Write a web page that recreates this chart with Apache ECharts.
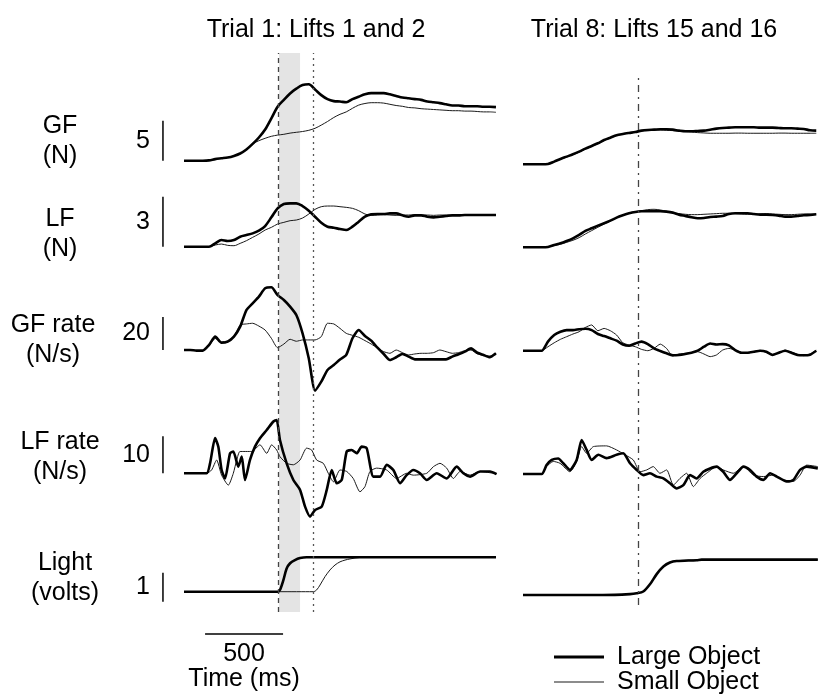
<!DOCTYPE html>
<html><head><meta charset="utf-8">
<script src="https://cdn.jsdelivr.net/npm/echarts@6/dist/echarts.min.js"></script>
<style>html,body{margin:0;padding:0;background:#fff}#c{width:820px;height:694px}</style>
</head><body><div id="c"></div><script>
// ---------------- DATA ----------------
const columnTitles = ['Trial 1: Lifts 1 and 2', 'Trial 8: Lifts 15 and 16'];
const seriesNames = ['Large Object', 'Small Object'];
const rowLabels = ['GF\n(N)', 'LF\n(N)', 'GF rate\n(N/s)', 'LF rate\n(N/s)', 'Light\n(volts)'];
const scaleBarValues = [5, 3, 20, 10, 1];
const scaleBarBase = [0, 0, 0, 0, -0.35];
const timeBarMs = 500;
const timeBarStart = 135;
const timeBarLabel = 'Time (ms)';
const eventsLeft = { onsetLarge: 604, onsetSmall: 829, band: [609, 744] };
const eventsRight = { onset: 737 };

// time samples (ms)
const tL = [0,40,80,120,160,200,240,280,320,360,400,440,480,520,560,600,640,680,720,760,800,840,880,920,960,1000,1040,1080,1120,1160,1200,1240,1280,1320,1360,1400,1440,1480,1520,1560,1600,1640,1680,1720,1760,1800,1840,1880,1920,1960,2000];
const tR = [0,40,80,120,160,200,240,280,320,360,400,440,480,520,560,600,640,680,720,760,800,840,880,920,960,1000,1040,1080,1120,1160,1200,1240,1280,1320,1360,1400,1440,1480,1520,1560,1600,1640,1680,1720,1760,1800,1840,1880];

// GF (N)
const gfLargeL = [0,0,0,0,0.04,0.2,0.3,0.4,0.6,0.9,1.4,2.1,2.9,3.9,5.3,6.75,7.6,8.4,9.0,9.45,9.55,8.9,8.2,7.7,7.45,7.4,7.3,7.7,8.0,8.3,8.45,8.45,8.45,8.3,8.1,7.9,7.8,7.7,7.6,7.4,7.3,7.2,7.05,6.9,6.9,6.8,6.8,6.8,6.75,6.75,6.7];
const gfSmallL = [0,0,0,0,0.04,0.2,0.3,0.4,0.6,0.9,1.4,2.1,2.5,2.8,3.05,3.2,3.3,3.45,3.55,3.65,3.8,4.05,4.45,4.9,5.4,5.8,6.1,6.55,6.95,7.15,7.25,7.25,7.2,7.05,6.9,6.8,6.65,6.6,6.5,6.45,6.4,6.35,6.3,6.25,6.25,6.2,6.2,6.15,6.1,6.1,6.05];
const gfLargeR = [0,0,0,0,0.04,0.33,0.67,0.96,1.25,1.58,1.96,2.29,2.63,3.04,3.33,3.63,3.79,3.92,4.04,4.21,4.29,4.33,4.38,4.38,4.33,4.21,4.13,4.13,4.17,4.21,4.33,4.46,4.54,4.58,4.63,4.63,4.63,4.63,4.58,4.58,4.58,4.54,4.5,4.5,4.46,4.42,4.25,4.21];
const gfSmallR = [0,0,0,0,0.04,0.3,0.62,0.92,1.2,1.52,1.9,2.24,2.58,2.98,3.3,3.6,3.77,3.9,4.02,4.17,4.21,4.25,4.29,4.25,4.21,4.13,4.08,4.04,3.96,3.92,3.88,3.88,3.88,3.88,3.9,3.9,3.88,3.88,3.88,3.88,3.88,3.9,3.9,3.88,3.88,3.88,3.88,3.88];

// LF (N)
const lfLargeL = [0,0,0,0,0,0.2,0.4,0.34,0.4,0.6,0.7,0.8,0.96,1.24,1.76,2.3,2.56,2.6,2.6,2.44,2.16,1.8,1.44,1.2,1.14,1.06,1.0,1.2,1.5,1.8,1.94,1.96,1.96,2.0,2.0,1.88,1.8,1.88,1.88,1.8,1.76,1.8,1.84,1.88,1.88,1.9,1.9,1.9,1.9,1.9,1.9];
const lfSmallL = [0,0,0,0,0,0.1,0.16,0.08,0.06,0.2,0.36,0.56,0.76,1.0,1.16,1.36,1.46,1.56,1.6,1.72,1.96,2.24,2.4,2.44,2.44,2.4,2.36,2.3,2.16,1.96,1.88,1.9,1.92,1.9,1.88,1.9,1.9,1.92,1.9,1.9,1.88,1.9,1.9,1.9,1.9,1.9,1.9,1.9,1.9,1.9,1.9];
const lfLargeR = [0,0,0,0,0.02,0.14,0.24,0.38,0.54,0.74,0.98,1.14,1.3,1.44,1.6,1.78,1.92,2.04,2.12,2.16,2.16,2.16,2.16,2.14,2.08,1.96,1.88,1.8,1.74,1.76,1.82,1.84,1.88,2.0,2.04,2.04,2.04,2.0,1.96,1.96,1.94,1.9,1.84,1.84,1.88,1.92,1.94,1.98];
const lfSmallR = [0,0,0,0,0.02,0.1,0.18,0.3,0.42,0.58,0.8,1.0,1.2,1.4,1.58,1.76,1.92,2.06,2.14,2.2,2.26,2.28,2.24,2.16,2.08,2.02,1.98,1.96,1.96,1.98,2.0,2.02,2.04,2.04,2.02,2.0,1.98,1.98,2.0,2.02,2.0,1.98,1.96,1.96,1.98,2.0,2.0,2.0];

// GF rate (N/s)
const gfrLargeL = [0,0,-0.4,-0.4,3.0,8.1,4.4,5.1,8.1,14.1,24.2,28.3,32.3,37.4,38.0,33.3,30.3,26.3,21.2,10.1,-5.1,-24.6,-19.2,-12.1,-9.1,-5.7,-3.0,7.1,12.1,8.5,5.7,1.4,-2.4,-6.1,-4.4,-2.4,-4.0,-5.7,-5.7,-5.7,-5.7,-5.7,-5.7,-4.0,-2.6,-1.0,1.0,-1.6,-3.0,-4.4,-2.0];
const gfrSmallL = [0,0,-0.4,-0.4,2.5,7.0,5.0,5.5,8.5,15.2,15.8,16.2,14.5,12.1,7.1,1.4,3.6,6.5,5.3,6.1,6.1,6.1,8.1,16.2,15.8,13.1,10.1,8.9,7.7,5.7,3.6,1.2,-1.0,-2.0,0,-1.6,-3.0,-2.4,-2.0,-2.0,-1.6,0,-1.0,-2.0,-1.6,-0.4,0,-2.4,-3.2,-3.6,-2.8];
const gfrLargeR = [0,0,0,0,5.5,9.5,11.5,12.5,12.5,13.0,13.3,12.5,10.1,8.9,7.5,6.1,3.8,3.0,4.4,5.5,4.0,1.4,-0.2,-1.6,-2.8,-2.6,-2.0,-1.2,0,2.4,4.4,3.8,4.0,3.2,0.4,-1.2,-1.2,-0.6,0,-0.6,-2.6,-1.2,0,-1.2,-2.6,-2.8,-2.4,0];
const gfrSmallR = [0,0,0,0,2.4,4.8,6.9,8.5,10.1,11.5,14.1,15.6,12.1,13.5,12.1,9.5,4.8,3.4,2.4,0.8,0,1.4,4.0,1.4,-3.2,-2.0,-1.6,-1.2,-0.6,-2.0,-3.6,-2.6,0.4,1.4,0.4,-1.0,-1.6,-0.4,0.2,-1.0,-2.2,-1.6,0.4,-0.8,-2.2,-3.0,-2.0,0.2];

// LF rate (N/s), irregular samples
const lfrLargeL_t = [0,145,167,199,220,241,263,295,316,348,370,391,423,455,487,530,573,594,615,658,701,744,776,808,840,883,915,947,979,1011,1043,1075,1107,1139,1171,1214,1257,1299,1342,1385,1427,1470,1513,1556,1620,1684,1748,1791,1834,1898,1962,2004];
const lfrLargeL = [0,0,2.7,9.5,7.2,0.9,-1.4,5.4,5.9,1.8,4.5,-1.8,3.6,7.2,9.5,11.7,14.0,14.4,9.0,2.7,-1.8,-4.5,-9.0,-11.7,-9.9,-9.0,-4.5,0.9,-2.7,-1.8,5.9,6.3,5.4,7.2,6.8,-0.9,-0.9,2.3,0.9,-2.7,-0.5,0.9,0,-1.8,0,-1.4,1.8,0,-0.9,0.5,0.5,-0.2];
const lfrSmallL_t = [0,145,177,209,241,284,316,338,359,434,487,530,562,594,615,658,701,744,786,818,850,893,925,958,1000,1043,1085,1128,1160,1192,1235,1299,1363,1427,1470,1556,1599,1641,1684,1727,1770,1834,1898,1983];
const lfrSmallL = [0,0,0.9,3.6,-0.5,-3.2,0,3.6,5.9,5.9,7.7,5.4,7.7,6.3,4.5,2.7,2.3,3.6,6.8,6.3,3.6,2.7,0,-2.3,0.9,0.5,-1.4,-5.0,-3.6,0.5,1.4,0.9,-1.4,0,-0.5,0,1.8,2.7,1.4,-1.4,0.5,-0.5,0.5,0];
const lfrLargeR_t = [0,120,151,184,226,258,301,344,376,408,440,483,536,600,643,686,729,771,814,857,900,942,985,1028,1071,1113,1156,1199,1241,1284,1327,1370,1413,1456,1498,1541,1584,1627,1690,1733,1776,1819,1890];
const lfrLargeR = [0,0,2.4,3.8,4.2,2.9,1.1,3.8,9.2,6.5,3.8,5.2,4.3,5.2,5.6,2.9,1.1,-0.3,0.2,-0.7,-1.2,-2.5,-3.9,-3.0,-0.3,-1.2,0.6,1.5,2.0,0.6,-1.6,0.2,2.0,1.1,-0.7,-1.6,0.2,-0.7,-2.0,-1.6,1.1,2.0,1.5];
const lfrSmallR_t = [0,120,151,194,237,301,344,376,408,451,536,600,654,707,750,793,835,878,921,964,1006,1049,1092,1135,1177,1241,1284,1348,1413,1477,1541,1605,1669,1733,1776,1819,1890];
const lfrSmallR = [0,0,2.0,3.4,2.9,0.6,3.4,7.4,5.6,7.4,7.6,6.5,5.2,3.8,0.6,1.1,2.0,0.2,1.1,-3.0,-1.2,0.2,-3.4,-1.2,0.2,2.0,1.1,0.2,2.0,-0.3,-0.7,-0.3,-1.6,-2.0,-0.3,2.4,2.0];

// Light (volts)
const lightLargeL_t = [0,600,615,637,658,680,711,744,786,2000];
const lightLargeL = [0,0,0.06,0.4,0.8,0.98,1.09,1.16,1.19,1.19];
const lightSmallL_t = [0,829,850,872,904,936,968,1000,1032,1064,1128,2000];
const lightSmallL = [0,0,0.06,0.23,0.52,0.75,0.92,1.03,1.09,1.13,1.18,1.19];
const lightLargeR_t = [0,512,686,729,771,814,857,900,942,985,1113,1145,1890];
const lightLargeR = [0,0,0.03,0.06,0.12,0.37,0.72,0.98,1.12,1.17,1.2,1.22,1.22];
const lightSmallR_t = [0,512,686,729,771,814,857,900,942,985,1113,1890];
const lightSmallR = [0,0,0.03,0.06,0.13,0.38,0.73,0.99,1.13,1.18,1.21,1.22];

// ---------------- LAYOUT ----------------
const FONT = '"Liberation Sans", Arial, Helvetica, sans-serif';
const FS = 25;
const zip = (t, v) => t.map((x, i) => [x, v[i]]);
const colL = { left: 149.7, width: 349.4, min: -220, max: 2020 };
const colR = { left: 523, width: 297, min: 0, max: 1904 };
const scaleBarT = -135;

const rows = [
  { k: 8,     min: -1,   max: 11,  bL: 160.7, bR: 164.3, smooth: 0.3,
    L: [zip(tL, gfLargeL), zip(tL, gfSmallL)], R: [zip(tR, gfLargeR), zip(tR, gfSmallR)] },
  { k: 16.67, min: -0.6, max: 3.0, bL: 246.7, bR: 247.3, smooth: 0.3,
    L: [zip(tL, lfLargeL), zip(tL, lfSmallL)], R: [zip(tR, lfLargeR), zip(tR, lfSmallR)] },
  { k: 1.65,  min: -30,  max: 45,  bL: 350,   bR: 350.7, smooth: 0.2,
    L: [zip(tL, gfrLargeL), zip(tL, gfrSmallL)], R: [zip(tR, gfrLargeR), zip(tR, gfrSmallR)] },
  { k: 3.7,   min: -14,  max: 16,  bL: 473.3, bR: 474,   smooth: 0.2,
    L: [zip(lfrLargeL_t, lfrLargeL), zip(lfrSmallL_t, lfrSmallL)], R: [zip(lfrLargeR_t, lfrLargeR), zip(lfrSmallR_t, lfrSmallR)] },
  { k: 29,    min: -0.4, max: 1.4, bL: 591.7, bR: 595,   smooth: 0.3,
    L: [zip(lightLargeL_t, lightLargeL), zip(lightSmallL_t, lightSmallL)], R: [zip(lightLargeR_t, lightLargeR), zip(lightSmallR_t, lightSmallR)] }
];
const rowLabelPos = [[60, 141.5], [60, 234], [53, 340], [60, 457.5], [65, 578]];

const grid = [], xAxis = [], yAxis = [], series = [];
function addGrid(col, top, height, ymin, ymax) {
  grid.push({ left: col.left, width: col.width, top: top, height: height, containLabel: false });
  const i = grid.length - 1;
  xAxis.push({ type: 'value', gridIndex: i, min: col.min, max: col.max, show: false });
  yAxis.push({ type: 'value', gridIndex: i, min: ymin, max: ymax, show: false });
  return i;
}
const lineW = [2.6, 1];
const lineC = ['#000', '#1a1a1a'];

// overlay grids (event lines and band)
const ovL = addGrid(colL, 53, 559, 0, 1);
series.push({ type: 'line', xAxisIndex: ovL, yAxisIndex: ovL, data: [], z: 1, silent: true,
  markArea: { silent: true, itemStyle: { color: '#e4e4e4' }, data: [[{ xAxis: eventsLeft.band[0] }, { xAxis: eventsLeft.band[1] }]] },
  markLine: { silent: true, symbol: 'none', label: { show: false }, animation: false,
    data: [
      { xAxis: eventsLeft.onsetLarge, lineStyle: { color: '#444', width: 1.3, type: [5, 4] } },
      { xAxis: eventsLeft.onsetSmall, lineStyle: { color: '#555', width: 1.3, type: [2, 4] } }
    ] } });
const ovR = addGrid(colR, 75, 530, 0, 1);
series.push({ type: 'line', xAxisIndex: ovR, yAxisIndex: ovR, data: [], z: 1, silent: true,
  markLine: { silent: true, symbol: 'none', label: { show: false }, animation: false,
    data: [{ xAxis: eventsRight.onset, lineStyle: { color: '#444', width: 1.3, type: [7, 5, 2, 5] } }] } });

rows.forEach((r, ri) => {
  const gl = addGrid(colL, r.bL - r.max * r.k, (r.max - r.min) * r.k, r.min, r.max);
  const gr = addGrid(colR, r.bR - r.max * r.k, (r.max - r.min) * r.k, r.min, r.max);
  [[gl, r.L], [gr, r.R]].forEach(([gi, sets]) => {
    sets.forEach((d, si) => {
      series.push({ type: 'line', name: seriesNames[si], xAxisIndex: gi, yAxisIndex: gi, data: d,
        symbol: 'none', showSymbol: false, smooth: r.smooth, z: 3 + (1 - si),
        lineStyle: { color: lineC[si], width: lineW[si] }, itemStyle: { color: lineC[si] }, silent: true });
    });
  });
  // scale bar
  const lo = scaleBarBase[ri], hi = lo + scaleBarValues[ri];
  series.push({ type: 'line', xAxisIndex: gl, yAxisIndex: gl, data: [[scaleBarT, lo], [scaleBarT, hi]],
    symbol: 'none', lineStyle: { color: '#000', width: 1.5 }, clip: false, silent: true });
  series.push({ type: 'scatter', xAxisIndex: gl, yAxisIndex: gl, data: [[scaleBarT, (lo + hi) / 2]],
    symbolSize: 0, itemStyle: { color: '#000', opacity: 1 }, clip: false, silent: true,
    label: { show: true, position: 'left', distance: 13, formatter: String(scaleBarValues[ri]),
      fontSize: FS, fontFamily: FONT, color: '#000', opacity: 1, textBorderWidth: 0 } });
});

// time scale bar
const gb = addGrid(colL, 624, 20, 0, 1);
series.push({ type: 'line', xAxisIndex: gb, yAxisIndex: gb, data: [[timeBarStart, 0.5], [timeBarStart + timeBarMs, 0.5]],
  symbol: 'none', lineStyle: { color: '#000', width: 1.5 }, silent: true });
series.push({ type: 'scatter', xAxisIndex: gb, yAxisIndex: gb, data: [[timeBarStart + timeBarMs / 2, 0.5]],
  symbolSize: 0, itemStyle: { color: '#000', opacity: 1 }, silent: true, clip: false,
  label: { show: true, position: 'bottom', distance: 8, formatter: timeBarMs + '\n' + timeBarLabel,
    fontSize: FS, lineHeight: 25, fontFamily: FONT, color: '#000', align: 'center', textBorderWidth: 0 } });

const graphic = [];
const titleX = [316, 654];
columnTitles.forEach((t, i) => graphic.push({ type: 'text', x: titleX[i], y: 30, silent: true,
  style: { text: t, font: FS + 'px ' + FONT, fill: '#000', align: 'center', verticalAlign: 'middle', textAlign: 'center', textVerticalAlign: 'middle' } }));
rowLabels.forEach((t, i) => graphic.push({ type: 'text', x: rowLabelPos[i][0], y: rowLabelPos[i][1], silent: true,
  style: { text: t, font: FS + 'px ' + FONT, lineHeight: 30, fill: '#000', align: 'center', verticalAlign: 'middle', textAlign: 'center', textVerticalAlign: 'middle' } }));

const legendBase = { orient: 'vertical', left: 549, itemWidth: 50, itemGap: 0, icon: 'rect', selectedMode: false,
  textStyle: { fontSize: FS, lineHeight: 25, color: '#000', fontFamily: FONT, padding: [0, 0, 0, 8] } };
const legend = [
  Object.assign({}, legendBase, { data: [seriesNames[0]], top: 639.5, itemHeight: 3 }),
  Object.assign({}, legendBase, { data: [seriesNames[1]], top: 664.5, itemHeight: 1 })
];

const chart = echarts.init(document.getElementById('c'), null, { renderer: 'canvas' });
chart.setOption({
  animation: false,
  backgroundColor: '#fff',
  textStyle: { fontFamily: FONT },
  grid, xAxis, yAxis, series, graphic, legend
});
</script></body></html>
